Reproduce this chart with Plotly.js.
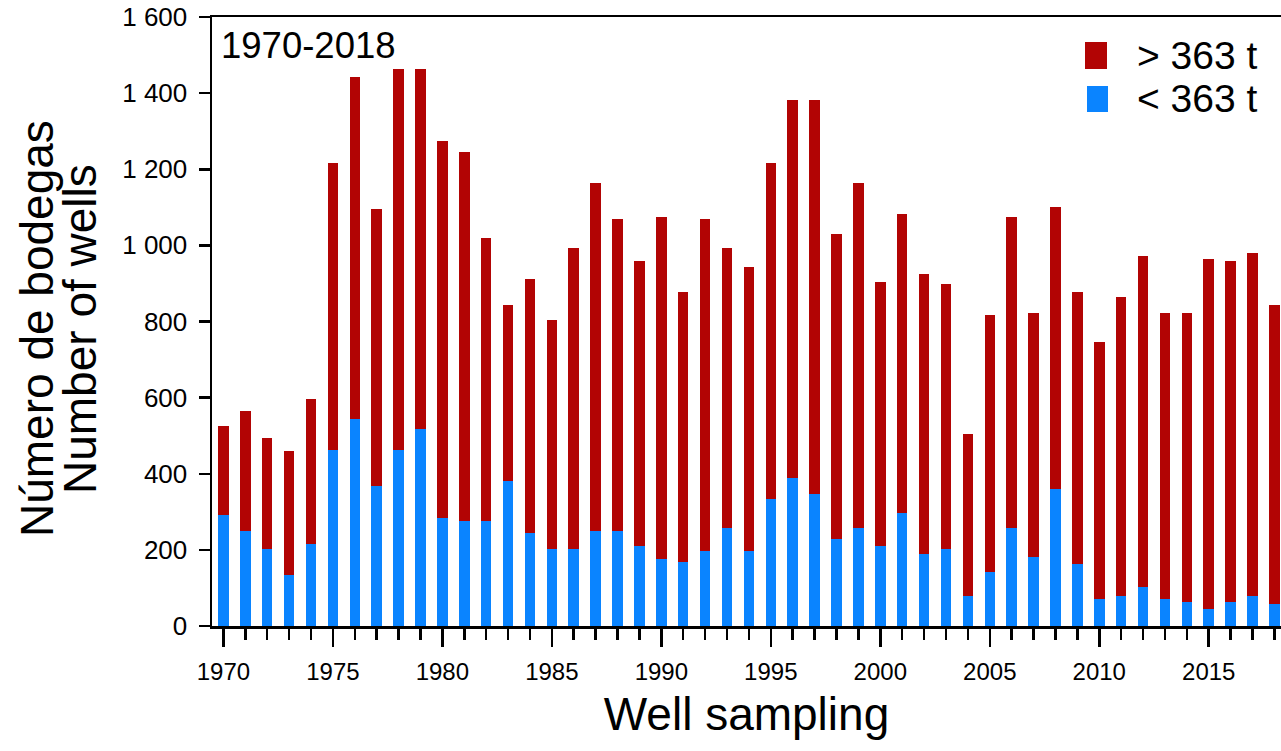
<!DOCTYPE html>
<html>
<head>
<meta charset="utf-8">
<script src="https://cdn.plot.ly/plotly-3.0.1.min.js"></script>
<style>
  html, body { margin: 0; padding: 0; background: #ffffff; }
  #chart { width: 1281px; height: 751px; }
</style>
</head>
<body>
<div id="chart"></div>
<script>
// ---- Data ----
const years = [1970,1971,1972,1973,1974,1975,1976,1977,1978,1979,
               1980,1981,1982,1983,1984,1985,1986,1987,1988,1989,
               1990,1991,1992,1993,1994,1995,1996,1997,1998,1999,
               2000,2001,2002,2003,2004,2005,2006,2007,2008,2009,
               2010,2011,2012,2013,2014,2015,2016,2017,2018];

// wells < 363 t (blue, bottom segment)
const smallWells = [291,250,202,135,216,462,543,368,462,517,
                    284,277,277,381,244,202,202,250,250,209,
                    176,169,196,257,196,334,388,348,229,257,
                    209,297,189,202,78,142,257,182,361,162,
                    71,78,102,71,64,44,64,78,58];

// wells > 363 t (red, top segment)
const largeWells = [235,314,291,324,381,755,900,728,1001,946,
                    990,968,742,462,667,601,790,913,819,749,
                    899,708,873,735,748,883,995,1035,800,906,
                    695,785,735,696,427,674,818,641,741,715,
                    674,786,869,752,759,920,894,901,785];

const seriesNames = ["> 363 t", "< 363 t"];
const yTickVals = [0,200,400,600,800,1000,1200,1400,1600];
const yTickText = ["0","200","400","600","800","1 000","1 200","1 400","1 600"];
const xTickVals = [1970,1975,1980,1985,1990,1995,2000,2005,2010,2015];
const xTickText = ["1970","1975","1980","1985","1990","1995","2000","2005","2010","2015"];
const periodLabel = "1970-2018";
const xTitle = "Well sampling";
const yTitleLines = ["Número de bodegas", "Number of wells"];

// ---- Styles ----
const RED = "#B20404";
const BLUE = "#0A84FF";
const FONT = "Liberation Sans, Arial, Helvetica, sans-serif";

const traces = [
  {
    type: "bar", x: years, y: smallWells, name: seriesNames[1],
    marker: { color: BLUE, line: { width: 0 } },
    showlegend: false, hoverinfo: "x+y+name"
  },
  {
    type: "bar", x: years, y: largeWells, name: seriesNames[0],
    marker: { color: RED, line: { width: 0 } },
    showlegend: false, hoverinfo: "x+y+name"
  }
];

// helper for pixel -> paper conversion (plot area: x 212..1281, y 17..626)
const PL = 212, PW = 1069, PB = 626, PH = 609;
const px = v => (v - PL) / PW;
const py = v => (PB - v) / PH;

const layout = {
  width: 1281, height: 751,
  margin: { l: PL, r: 0, t: 17, b: 125, pad: 0 },
  paper_bgcolor: "#ffffff", plot_bgcolor: "#ffffff",
  barmode: "stack", bargap: 0.52,
  font: { family: FONT, color: "#000000" },
  xaxis: {
    range: [1969.48, 2018.3],
    tickvals: xTickVals, ticktext: xTickText,
    ticks: "outside", ticklen: 18, tickwidth: 2.5, tickcolor: "#000",
    minor: { tickvals: years, ticks: "outside", ticklen: 11, tickwidth: 2.5, tickcolor: "#000", showgrid: false },
    showline: true, linewidth: 2.5, linecolor: "#000", mirror: true,
    showgrid: false, zeroline: false,
    tickfont: { family: FONT, size: 24, color: "#000" },
    ticklabelstandoff: 5,
    title: { text: xTitle, font: { family: FONT, size: 46, color: "#000" }, standoff: 14 },
    fixedrange: true
  },
  yaxis: {
    range: [0, 1600],
    tickvals: yTickVals, ticktext: yTickText,
    ticks: "outside", ticklen: 11, tickwidth: 2.5, tickcolor: "#000",
    showline: true, linewidth: 2.5, linecolor: "#000", mirror: false,
    showgrid: false, zeroline: false,
    tickfont: { family: FONT, size: 26, color: "#000" },
    ticklabelstandoff: 6,
    fixedrange: true
  },
  shapes: [
    { type: "rect", xref: "paper", yref: "paper",
      x0: px(1085), x1: px(1107), y0: py(69), y1: py(42),
      fillcolor: RED, line: { width: 0 } },
    { type: "rect", xref: "paper", yref: "paper",
      x0: px(1087), x1: px(1108), y0: py(112), y1: py(86),
      fillcolor: BLUE, line: { width: 0 } }
  ],
  annotations: [
    { xref: "paper", yref: "paper", x: px(219), y: py(45), xanchor: "left", yanchor: "middle",
      text: periodLabel, showarrow: false, font: { family: FONT, size: 36.5, color: "#000" } },
    { xref: "paper", yref: "paper", x: px(1135), y: py(55), xanchor: "left", yanchor: "middle",
      text: seriesNames[0], showarrow: false, font: { family: FONT, size: 39, color: "#000" } },
    { xref: "paper", yref: "paper", x: px(1135), y: py(99), xanchor: "left", yanchor: "middle",
      text: seriesNames[1], showarrow: false, font: { family: FONT, size: 39, color: "#000" } },
    { xref: "paper", yref: "paper", x: px(37), y: py(329), xanchor: "center", yanchor: "middle",
      textangle: -90, text: yTitleLines[0], showarrow: false,
      font: { family: FONT, size: 46, color: "#000" } },
    { xref: "paper", yref: "paper", x: px(80), y: py(329), xanchor: "center", yanchor: "middle",
      textangle: -90, text: yTitleLines[1], showarrow: false,
      font: { family: FONT, size: 46, color: "#000" } }
  ]
};

Plotly.newPlot("chart", traces, layout, { displayModeBar: false, staticPlot: true });
</script>
</body>
</html>
